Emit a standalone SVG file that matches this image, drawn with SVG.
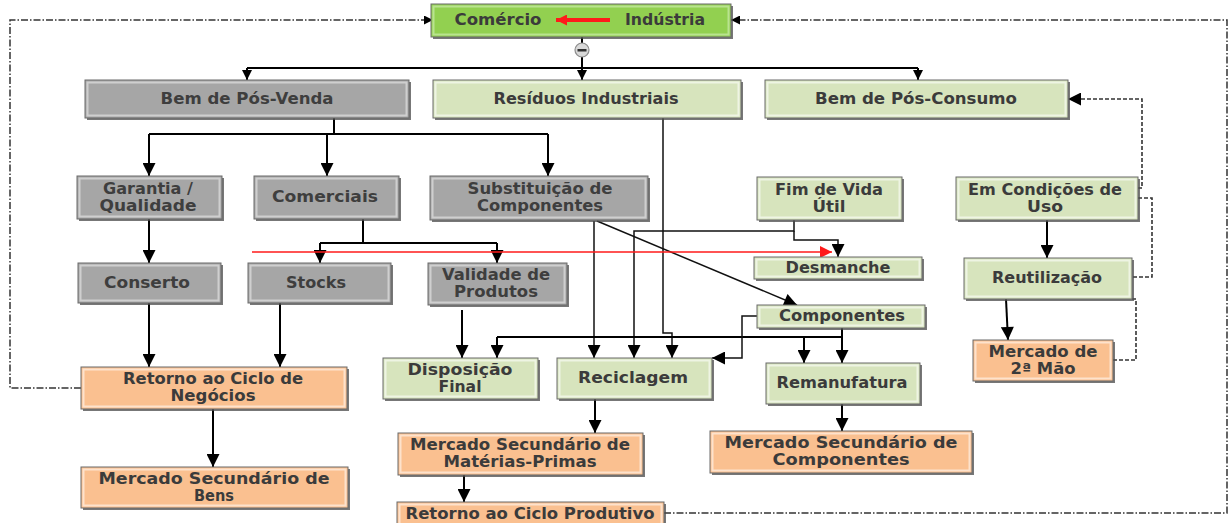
<svg xmlns="http://www.w3.org/2000/svg" width="1232" height="523" viewBox="0 0 1232 523">
<style>
  .sh { fill: #4a4a4a; opacity: 0.75; }
  .bg { stroke: #6a6a6a; stroke-width: 1; }
  .in { fill: none; stroke-width: 2; }
  .gray .bg { fill: #a6a6a6; } .gray .in { stroke: #cfcfcf; }
  .lg .bg { fill: #d7e4bd; } .lg .in { stroke: #eef4e3; }
  .or .bg { fill: #fac090; } .or .in { stroke: #fde2cc; }
  .bgn .bg { fill: #92d050; } .bgn .in { stroke: #b9e38f; }
  text { font-family: "DejaVu Sans", "Liberation Sans", sans-serif; font-weight: bold; font-size: 15px; fill: #3b3b3b; text-anchor: middle; }
  .gray text { fill: #3e3e3e; }
  .ln { fill: none; stroke: #000; stroke-width: 2; }
  .thin { fill: none; stroke: #111; stroke-width: 1.5; }
  .dd { fill: none; stroke: #333; stroke-width: 1.5; stroke-dasharray: 7 2 1.5 2; }
  .ds { fill: none; stroke: #333; stroke-width: 1.6; stroke-dasharray: 4 2; }
  .red { fill: none; stroke: #ff1a1a; stroke-width: 1.6; }
</style>
<defs>
  <marker id="ah" viewBox="0 0 10 10" refX="10" refY="5" markerWidth="14" markerHeight="13" markerUnits="userSpaceOnUse" orient="auto"><path d="M0,0 L10,5 L0,10 z" fill="#000"/></marker>
  <marker id="ahs" viewBox="0 0 10 10" refX="10" refY="5" markerWidth="10" markerHeight="10" markerUnits="userSpaceOnUse" orient="auto"><path d="M0,0 L10,5 L0,10 z" fill="#000"/></marker>
  <marker id="ahd" viewBox="0 0 10 10" refX="10" refY="5" markerWidth="13" markerHeight="9" markerUnits="userSpaceOnUse" orient="auto"><path d="M0,0 L10,5 L0,10 z" fill="#000"/></marker>
  <marker id="ahr" viewBox="0 0 10 10" refX="10" refY="5" markerWidth="16" markerHeight="12" markerUnits="userSpaceOnUse" orient="auto"><path d="M0,0 L10,5 L0,10 z" fill="#ff1a1a"/></marker>
  <marker id="ahr2" viewBox="0 0 10 10" refX="10" refY="5" markerWidth="13" markerHeight="11" markerUnits="userSpaceOnUse" orient="auto"><path d="M0,0 L10,5 L0,10 z" fill="#ff1a1a"/></marker>
</defs>
<rect width="1232" height="523" fill="#ffffff"/>

<g id="connectors">
  <path class="dd" d="M81,388 H10 V20 H433" marker-end="url(#ahd)"/>
  <path class="dd" d="M664,513 H1227 V20 H731" marker-end="url(#ahd)"/>
  <path class="ds" d="M1138,188 H1142 V99 H1068" marker-end="url(#ah)"/>
  <path class="ds" d="M1138,198 H1152 V277 H1132"/>
  <path class="ds" d="M1132,299 H1136 V360 H1113"/>
  <path class="ln" d="M582,37 V43 M582,57 V68 M247,68 H918"/>
  <path class="ln" d="M247,68 V80" marker-end="url(#ahs)"/>
  <path class="ln" d="M582,68 V80" marker-end="url(#ahs)"/>
  <path class="ln" d="M918,68 V80" marker-end="url(#ahs)"/>
  <path class="ln" d="M334,118 V134 M149,134 H548"/>
  <path class="ln" d="M149,134 V176" marker-end="url(#ah)"/>
  <path class="ln" d="M327,134 V176" marker-end="url(#ah)"/>
  <path class="ln" d="M548,134 V176" marker-end="url(#ah)"/>
  <path class="ln" d="M149,219 V263" marker-end="url(#ah)"/>
  <path class="ln" d="M363,219 V243 M320,243 H497"/>
  <path class="ln" d="M320,243 V263" marker-end="url(#ah)"/>
  <path class="ln" d="M497,243 V263" marker-end="url(#ah)"/>
  <path class="ln" d="M149,303 V367" marker-end="url(#ah)"/>
  <path class="ln" d="M280,303 V367" marker-end="url(#ah)"/>
  <path class="ln" d="M213,409 V467" marker-end="url(#ah)"/>
  <path class="ln" d="M462,310 V358" marker-end="url(#ah)"/>
  <path class="thin" d="M594,221 V358" marker-end="url(#ah)"/>
  <path class="thin" d="M597,221 L797,305" marker-end="url(#ah)"/>
  <path class="thin" d="M794,220 V231 H634 V358" marker-end="url(#ah)"/>
  <path class="thin" d="M794,231 V240 H838 V257" marker-end="url(#ah)"/>
  <path class="thin" d="M663,118 V333 H672 V358" marker-end="url(#ah)"/>
  <path class="ln" d="M497,337 H842"/>
  <path class="ln" d="M497,337 V358" marker-end="url(#ah)"/>
  <path class="ln" d="M804,337 V363" marker-end="url(#ah)"/>
  <path class="ln" d="M842,328 V363" marker-end="url(#ah)"/>
  <path class="thin" d="M757,316 H742 V358 H712" marker-end="url(#ah)"/>
  <path class="ln" d="M595,399 V433" marker-end="url(#ah)"/>
  <path class="ln" d="M464,475 V502" marker-end="url(#ah)"/>
  <path class="ln" d="M842,404 V431" marker-end="url(#ah)"/>
  <path class="ln" d="M1047,220 V258" marker-end="url(#ah)"/>
  <path class="ln" d="M1006,299 L1008,340" marker-end="url(#ah)"/>
  <path class="red" d="M252,252 H832" marker-end="url(#ahr)"/>
</g>

<g id="collapse">
  <circle cx="582" cy="50" r="7" fill="#d9d9d9" stroke="#8c8c8c" stroke-width="1.2"/>
  <rect x="577.5" y="49" width="9" height="2.5" fill="#333"/>
</g>

<g id="n-comercio-industria" class="bgn">
  <rect class="sh" x="433" y="6" width="300" height="33"/>
  <rect class="bg" x="431" y="4" width="300" height="33"/>
  <rect class="in" x="433.5" y="6.5" width="295" height="28"/>
  <text x="498" y="25" textLength="87" lengthAdjust="spacingAndGlyphs">Comércio</text>
  <text x="665" y="25" textLength="80" lengthAdjust="spacingAndGlyphs">Indústria</text>
  <path d="M610,20 H556" stroke="#ff1a1a" stroke-width="4" fill="none" marker-end="url(#ahr2)"/>
</g>

<g id="n-bem-pos-venda" class="gray">
  <rect class="sh" x="87" y="82" width="324" height="38"/>
  <rect class="bg" x="85" y="80" width="324" height="38"/>
  <rect class="in" x="87.5" y="82.5" width="319" height="33"/>
  <text x="247" y="104" textLength="173" lengthAdjust="spacingAndGlyphs">Bem de Pós-Venda</text>
</g>
<g id="n-residuos" class="lg">
  <rect class="sh" x="435" y="82" width="308" height="38"/>
  <rect class="bg" x="433" y="80" width="308" height="38"/>
  <rect class="in" x="435.5" y="82.5" width="303" height="33"/>
  <text x="586" y="104" textLength="185" lengthAdjust="spacingAndGlyphs">Resíduos Industriais</text>
</g>
<g id="n-bem-pos-consumo" class="lg">
  <rect class="sh" x="767" y="82" width="303" height="38"/>
  <rect class="bg" x="765" y="80" width="303" height="38"/>
  <rect class="in" x="767.5" y="82.5" width="298" height="33"/>
  <text x="916" y="104" textLength="202" lengthAdjust="spacingAndGlyphs">Bem de Pós-Consumo</text>
</g>

<g id="n-garantia" class="gray">
  <rect class="sh" x="79" y="178" width="145" height="43"/>
  <rect class="bg" x="77" y="176" width="145" height="43"/>
  <rect class="in" x="79.5" y="178.5" width="140" height="38"/>
  <text x="148" y="194" textLength="90" lengthAdjust="spacingAndGlyphs">Garantia /</text>
  <text x="148" y="211" textLength="97" lengthAdjust="spacingAndGlyphs">Qualidade</text>
</g>
<g id="n-comerciais" class="gray">
  <rect class="sh" x="256" y="178" width="145" height="43"/>
  <rect class="bg" x="254" y="176" width="145" height="43"/>
  <rect class="in" x="256.5" y="178.5" width="140" height="38"/>
  <text x="325" y="202" textLength="106" lengthAdjust="spacingAndGlyphs">Comerciais</text>
</g>
<g id="n-substituicao" class="gray">
  <rect class="sh" x="432" y="178" width="218" height="44"/>
  <rect class="bg" x="430" y="176" width="218" height="44"/>
  <rect class="in" x="432.5" y="178.5" width="213" height="39"/>
  <text x="540" y="194" textLength="145" lengthAdjust="spacingAndGlyphs">Substituição de</text>
  <text x="540" y="211" textLength="126" lengthAdjust="spacingAndGlyphs">Componentes</text>
</g>
<g id="n-fim-vida" class="lg">
  <rect class="sh" x="759" y="179" width="145" height="43"/>
  <rect class="bg" x="757" y="177" width="145" height="43"/>
  <rect class="in" x="759.5" y="179.5" width="140" height="38"/>
  <text x="829" y="195" textLength="108" lengthAdjust="spacingAndGlyphs">Fim de Vida</text>
  <text x="829" y="212" textLength="33" lengthAdjust="spacingAndGlyphs">Útil</text>
</g>
<g id="n-em-condicoes" class="lg">
  <rect class="sh" x="958" y="179" width="182" height="43"/>
  <rect class="bg" x="956" y="177" width="182" height="43"/>
  <rect class="in" x="958.5" y="179.5" width="177" height="38"/>
  <text x="1045" y="195" textLength="154" lengthAdjust="spacingAndGlyphs">Em Condições de</text>
  <text x="1045" y="212" textLength="36" lengthAdjust="spacingAndGlyphs">Uso</text>
</g>

<g id="n-conserto" class="gray">
  <rect class="sh" x="80" y="265" width="143" height="40"/>
  <rect class="bg" x="78" y="263" width="143" height="40"/>
  <rect class="in" x="80.5" y="265.5" width="138" height="35"/>
  <text x="147" y="288" textLength="86" lengthAdjust="spacingAndGlyphs">Conserto</text>
</g>
<g id="n-stocks" class="gray">
  <rect class="sh" x="250" y="265" width="143" height="40"/>
  <rect class="bg" x="248" y="263" width="143" height="40"/>
  <rect class="in" x="250.5" y="265.5" width="138" height="35"/>
  <text x="316" y="288" textLength="60" lengthAdjust="spacingAndGlyphs">Stocks</text>
</g>
<g id="n-validade" class="gray">
  <rect class="sh" x="430" y="265" width="139" height="42"/>
  <rect class="bg" x="428" y="263" width="139" height="42"/>
  <rect class="in" x="430.5" y="265.5" width="134" height="37"/>
  <text x="496" y="280" textLength="108" lengthAdjust="spacingAndGlyphs">Validade de</text>
  <text x="496" y="297" textLength="84" lengthAdjust="spacingAndGlyphs">Produtos</text>
</g>
<g id="n-desmanche" class="lg">
  <rect class="sh" x="756" y="259" width="168" height="22"/>
  <rect class="bg" x="754" y="257" width="168" height="22"/>
  <rect class="in" x="756.5" y="259.5" width="163" height="17"/>
  <text x="838" y="273" textLength="105" lengthAdjust="spacingAndGlyphs">Desmanche</text>
</g>
<g id="n-reutilizacao" class="lg">
  <rect class="sh" x="966" y="260" width="168" height="41"/>
  <rect class="bg" x="964" y="258" width="168" height="41"/>
  <rect class="in" x="966.5" y="260.5" width="163" height="36"/>
  <text x="1047" y="283" textLength="110" lengthAdjust="spacingAndGlyphs">Reutilização</text>
</g>
<g id="n-componentes" class="lg">
  <rect class="sh" x="759" y="307" width="168" height="23"/>
  <rect class="bg" x="757" y="305" width="168" height="23"/>
  <rect class="in" x="759.5" y="307.5" width="163" height="18"/>
  <text x="842" y="321" textLength="126" lengthAdjust="spacingAndGlyphs">Componentes</text>
</g>
<g id="n-mercado-2a-mao" class="or">
  <rect class="sh" x="975" y="342" width="140" height="41"/>
  <rect class="bg" x="973" y="340" width="140" height="41"/>
  <rect class="in" x="975.5" y="342.5" width="135" height="36"/>
  <text x="1043" y="357" textLength="109" lengthAdjust="spacingAndGlyphs">Mercado de</text>
  <text x="1043" y="374" textLength="65" lengthAdjust="spacingAndGlyphs">2ª Mão</text>
</g>

<g id="n-retorno-negocios" class="or">
  <rect class="sh" x="83" y="369" width="266" height="42"/>
  <rect class="bg" x="81" y="367" width="266" height="42"/>
  <rect class="in" x="83.5" y="369.5" width="261" height="37"/>
  <text x="213" y="384" textLength="180" lengthAdjust="spacingAndGlyphs">Retorno ao Ciclo de</text>
  <text x="213" y="401" textLength="85" lengthAdjust="spacingAndGlyphs">Negócios</text>
</g>
<g id="n-disposicao" class="lg">
  <rect class="sh" x="385" y="360" width="155" height="41"/>
  <rect class="bg" x="383" y="358" width="155" height="41"/>
  <rect class="in" x="385.5" y="360.5" width="150" height="36"/>
  <text x="460" y="375" textLength="105" lengthAdjust="spacingAndGlyphs">Disposição</text>
  <text x="460" y="392" textLength="43" lengthAdjust="spacingAndGlyphs">Final</text>
</g>
<g id="n-reciclagem" class="lg">
  <rect class="sh" x="559" y="360" width="155" height="41"/>
  <rect class="bg" x="557" y="358" width="155" height="41"/>
  <rect class="in" x="559.5" y="360.5" width="150" height="36"/>
  <text x="633" y="383" textLength="110" lengthAdjust="spacingAndGlyphs">Reciclagem</text>
</g>
<g id="n-remanufatura" class="lg">
  <rect class="sh" x="768" y="365" width="154" height="41"/>
  <rect class="bg" x="766" y="363" width="154" height="41"/>
  <rect class="in" x="768.5" y="365.5" width="149" height="36"/>
  <text x="842" y="388" textLength="131" lengthAdjust="spacingAndGlyphs">Remanufatura</text>
</g>

<g id="n-mercado-bens" class="or">
  <rect class="sh" x="83" y="469" width="267" height="41"/>
  <rect class="bg" x="81" y="467" width="267" height="41"/>
  <rect class="in" x="83.5" y="469.5" width="262" height="36"/>
  <text x="214" y="484" textLength="231" lengthAdjust="spacingAndGlyphs">Mercado Secundário de</text>
  <text x="214" y="501" textLength="40" lengthAdjust="spacingAndGlyphs">Bens</text>
</g>
<g id="n-mercado-materias" class="or">
  <rect class="sh" x="400" y="435" width="245" height="42"/>
  <rect class="bg" x="398" y="433" width="245" height="42"/>
  <rect class="in" x="400.5" y="435.5" width="240" height="37"/>
  <text x="520" y="450" textLength="220" lengthAdjust="spacingAndGlyphs">Mercado Secundário de</text>
  <text x="520" y="467" textLength="153" lengthAdjust="spacingAndGlyphs">Matérias-Primas</text>
</g>
<g id="n-mercado-componentes" class="or">
  <rect class="sh" x="712" y="433" width="262" height="42"/>
  <rect class="bg" x="710" y="431" width="262" height="42"/>
  <rect class="in" x="712.5" y="433.5" width="257" height="37"/>
  <text x="841" y="448" textLength="233" lengthAdjust="spacingAndGlyphs">Mercado Secundário de</text>
  <text x="841" y="465" textLength="137" lengthAdjust="spacingAndGlyphs">Componentes</text>
</g>
<g id="n-retorno-produtivo" class="or">
  <rect class="sh" x="399" y="504" width="267" height="30"/>
  <rect class="bg" x="397" y="502" width="267" height="30"/>
  <rect class="in" x="399.5" y="504.5" width="262" height="25"/>
  <text x="530" y="519" textLength="249" lengthAdjust="spacingAndGlyphs">Retorno ao Ciclo Produtivo</text>
</g>
</svg>
